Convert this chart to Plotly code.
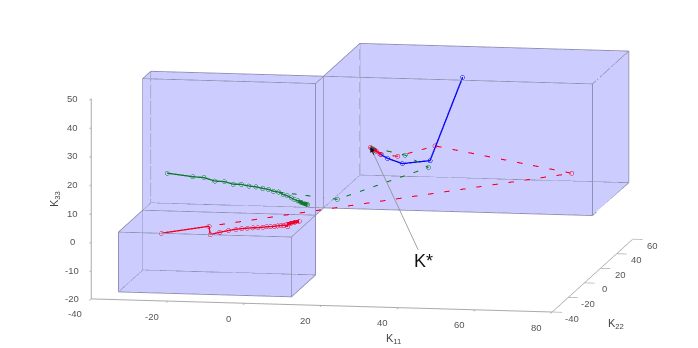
import plotly.graph_objects as go

# trajectories (K11, K22, K33)
green_x = [-29.7, -23.0, -20.1, -17.3, -14.8, -12.5, -10.4, -8.4, -6.6, -4.8, -3.3, -2.0, -0.7, 0.5, 1.6, 2.6, 3.5, 4.4, 5.2, 6.0, 6.5, 6.9]
green_y = [5] * 22
green_z = [12.9, 11.9, 11.7, 10.6, 10.5, 9.7, 9.7, 9.2, 9.0, 8.5, 8.2, 7.6, 7.4, 6.6, 6.2, 5.5, 4.9, 4.5, 4.0, 3.6, 3.4, 3.3]
green_dash_x = [-0.7, 12.5, 33.1, 27.0, 18.0]
green_dash_y = [5, 15, 30, 30, 30]
green_dash_z = [7.4, 2.8, 10.9, 15.0, 17.4]

red_x = [-27.0, -14.6, -14.3, -11.8, -9.5, -7.6, -6.1, -4.6, -3.2, -1.9, -0.6, 0.4, 1.4, 2.4, 3.25, 4.1, 4.8, 5.9, 5.7, 6.7, 7.7, 8.85]
red_y = [-15] * 22
red_z = [-2.9, 0.0, -2.9, -2.0, -1.3, -0.8, -0.5, -0.3, -0.1, 0.0, 0.2, 0.4, 0.5, 0.6, 0.8, 1.0, 1.1, 0.7, 1.5, 1.9, 2.3, 2.65]
red_dash_x = [-14.6, 70.4, 34.8, 25.1, 20.8]
red_dash_y = [-15, 30, 30, 30, 30]
red_dash_z = [0.0, 10.3, 18.5, 14.5, 15.0]
red_end_x = [20.8, 19.5, 18.65, 18.3, 18.0]
red_end_y = [30, 30, 30, 30, 30]
red_end_z = [15.0, 16.1, 16.8, 17.1, 17.4]

blue_x = [42.0, 33.5, 26.3, 22.4, 20.5, 19.1, 18.0]
blue_y = [30] * 7
blue_z = [42.8, 13.3, 12.0, 13.7, 15.1, 16.4, 17.4]

# boxes: x range, y range, z range
boxes = [
    ([-35, 10], [-30, 0], [-19.9, 1]),
    ([-35, 10], [0, 10], [1, 47]),
    ([10, 80], [10, 55], [1, 47]),
]

x_ticks = [-40, -20, 0, 20, 40, 60, 80]
y_ticks = [-40, -20, 0, 20, 40, 60]
z_ticks = [-20, -10, 0, 10, 20, 30, 40, 50]

GREEN = "#0b7a2e"
RED = "#f0002a"
BLUE = "#0a0af0"
TICK_FONT = dict(family="Liberation Sans", size=9.5, color="#555555")
TITLE_FONT = dict(family="Liberation Sans", size=11, color="#444444")


def add_box(fig, xr, yr, zr):
    x0, x1 = xr
    y0, y1 = yr
    z0, z1 = zr
    # back, left and bottom faces only, so the tint does not add up
    vx = [x0, x1, x1, x0, x0, x1, x1, x0]
    vy = [y0, y0, y1, y1, y0, y0, y1, y1]
    vz = [z0, z0, z0, z0, z1, z1, z1, z1]
    fig.add_trace(go.Mesh3d(
        x=vx, y=vy, z=vz,
        i=[0, 0, 3, 3, 0, 0],
        j=[1, 2, 2, 6, 3, 7],
        k=[2, 3, 6, 7, 7, 4],
        color="rgb(204,204,255)", opacity=0.999, flatshading=True,
        lighting=dict(ambient=1, diffuse=0, specular=0, fresnel=0),
        hoverinfo="skip", showscale=False,
    ))
    # edges
    ex = [x0, x1, x1, x0, x0, x0, x1, x1, x0, x0, None, x1, x1, None, x1, x1, None, x0, x0]
    ey = [y0, y0, y1, y1, y0, y0, y0, y1, y1, y0, None, y0, y0, None, y1, y1, None, y1, y1]
    ez = [z0, z0, z0, z0, z0, z1, z1, z1, z1, z1, None, z0, z1, None, z0, z1, None, z0, z1]
    fig.add_trace(go.Scatter3d(
        x=ex, y=ey, z=ez, mode="lines",
        line=dict(color="#9090b8", width=2), hoverinfo="skip",
    ))


def add_path(fig, x, y, z, color, width=3, size=2.5):
    fig.add_trace(go.Scatter3d(
        x=x, y=y, z=z, mode="lines+markers",
        line=dict(color=color, width=width),
        marker=dict(color="rgba(0,0,0,0)", size=size, line=dict(color=color, width=1.5)),
    ))


def add_markers(fig, x, y, z, color, size=2.5):
    fig.add_trace(go.Scatter3d(
        x=x, y=y, z=z, mode="markers",
        marker=dict(color="rgba(0,0,0,0)", size=size, line=dict(color=color, width=1.5)),
    ))


fig = go.Figure()
for xr, yr, zr in boxes:
    add_box(fig, xr, yr, zr)

# both dashed paths share one trace, so their dashes come out the same length
fig.add_trace(go.Scatter3d(
    x=green_dash_x + [None] + red_dash_x,
    y=green_dash_y + [None] + red_dash_y,
    z=green_dash_z + [None] + red_dash_z,
    mode="lines",
    line=dict(
        width=2.5, dash="dash",
        color=[0] * len(green_dash_x) + [1] + [1] * len(red_dash_x),
        colorscale=[[0, GREEN], [1, RED]], cmin=0, cmax=1,
    ),
))
add_markers(fig, green_dash_x, green_dash_y, green_dash_z, GREEN)
add_markers(fig, red_dash_x, red_dash_y, red_dash_z, RED)
add_path(fig, green_x, green_y, green_z, GREEN)
add_path(fig, red_x, red_y, red_z, RED)
add_path(fig, blue_x, blue_y, blue_z, BLUE)
# the tails are so dense in the picture that the markers run together
add_path(fig, green_x[-5:], green_y[-5:], green_z[-5:], GREEN, width=7)
add_path(fig, red_x[-4:], red_y[-4:], red_z[-4:], RED, width=7)
add_path(fig, red_end_x, red_end_y, red_end_z, RED, width=5)


def axis(rng, ticks):
    return dict(
        title=dict(text=""),
        range=rng, tickvals=ticks,
        tickfont=dict(size=1, color="rgba(255,255,255,0)"),
        showgrid=False, zeroline=False, showbackground=False, showspikes=False,
        showline=True, linecolor="#aaaaaa", linewidth=2,
        ticks="outside", tickcolor="#aaaaaa", ticklen=10, tickwidth=2,
    )


def label(x, y, z, text, dx, dy, font=TICK_FONT, angle=0):
    return dict(x=x, y=y, z=z, text=text, showarrow=False, xshift=dx, yshift=dy,
                font=font, textangle=angle)


notes = [
    dict(x=18, y=30, z=17.4, text="K*", showarrow=True,
         ax=53, ay=114, arrowcolor="#8a8a8a", arrowwidth=0.8, arrowhead=0,
         font=dict(family="Liberation Sans", size=18, color="#111111")),
    dict(x=18, y=30, z=17.4, text="", showarrow=True,
         ax=4, ay=9, arrowcolor="#111111", arrowwidth=1, arrowhead=2, arrowsize=1),
]
notes += [label(t, -40, -20, str(t), -16, -15) for t in x_ticks]
notes += [label(80, t, -20, str(t), 20, -6) for t in y_ticks]
notes += [label(-40, -40, t, str(t), -19, 0) for t in z_ticks]
notes += [
    label(40, -40, -20, "K<sub>11</sub>", -5, -31, TITLE_FONT),
    label(80, 10, -20, "K<sub>22</sub>", 24, -48, TITLE_FONT),
    label(-40, -40, 15, "K<sub>33</sub>", -37, 0, TITLE_FONT, -90),
]

fig.update_layout(
    width=698, height=348,
    margin=dict(l=0, r=0, t=0, b=0),
    paper_bgcolor="white",
    showlegend=False,
    scene=dict(
        xaxis=axis([-40, 80], x_ticks),
        yaxis=axis([-40, 60], y_ticks),
        zaxis=axis([-20, 50], z_ticks),
        aspectmode="manual",
        aspectratio=dict(x=2.69, y=2.653, z=1.166),
        camera=dict(
            projection=dict(type="orthographic"),
            eye=dict(x=0.834, y=-4.869, z=0.726),
            center=dict(x=-0.026, y=-0.019, z=-0.074),
            up=dict(x=0, y=0, z=1),
        ),
        annotations=notes,
    ),
)

fig.write_html("out.html")
